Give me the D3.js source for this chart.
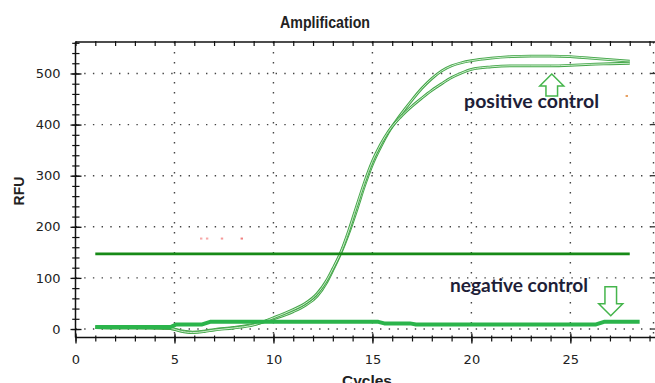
<!DOCTYPE html>
<html><head><meta charset="utf-8">
<script src="https://cdn.jsdelivr.net/npm/d3@7"></script>
<style>html,body{margin:0;padding:0;background:#fff;overflow:hidden}</style>
</head><body>
<svg id="chart" width="655" height="383"></svg>
<script>
// ---------- data ----------
const chartTitle = "Amplification";
const xAxisLabel = "Cycles";
const yAxisLabel = "RFU";
const xMajorTicks = [0, 5, 10, 15, 20, 25];
const yMajorTicks = [0, 100, 200, 300, 400, 500];
const thresholdRFU = 147;
const thresholdRange = [1, 28];

// positive control replicate 1 (upper plateau): [cycle, RFU]
const positiveA = [[1,3],[2,2],[3,2],[4,2],[4.8,1],[5.3,-3],[5.9,-6],[6.5,-4],[7,-1],[8,3],[9,9],[10,20],[11,34],[11.6,46],[12.2,64],[12.7,92],[13.0,115],[13.4,148],[13.8,187],[14.2,232],[14.6,280],[15.0,322],[15.4,355],[15.8,384],[16.4,418],[17.0,448],[17.5,471],[18.0,490],[18.5,505],[19.0,515],[19.5,521],[20,525],[21,530],[22,533],[23,534],[24,534],[25,533],[26,530],[27,527],[28,524]];
// positive control replicate 2 (lower plateau)
const positiveB = [[1,4],[2,3],[3,3],[4,2],[4.8,1],[5.3,-4],[5.9,-7],[6.5,-5],[7,-2],[8,2],[9,8],[10,22],[11,38],[11.6,50],[12.2,69],[12.7,96],[13.0,118],[13.4,150],[13.8,192],[14.2,240],[14.6,287],[15.0,328],[15.4,360],[15.8,386],[16.4,414],[17.0,436],[17.5,452],[18.0,467],[18.5,480],[19.0,492],[19.5,501],[20,508],[21,513],[22,515],[23,515],[24,515],[25,516],[26,518],[27,519],[28,520]];
// negative control
const negativeCtrl = [[1,4],[4.8,4],[5.1,9],[6.4,9],[6.8,14],[15.3,14],[15.6,11],[16.9,11],[17.2,9],[26.3,9],[26.7,14],[28.5,14]];

// annotation texts and anchors (cycle, RFU)
const annotations = [
  {text: "positive control", cycle: 19.63, rfu: 432, width: 135},
  {text: "negative control", cycle: 18.92, rfu: 72, width: 138}
];
const arrows = [
  {dir: "up", cycle: 24.06, rfu: 499},
  {dir: "down", cycle: 27.04, rfu: 26}
];
// small stray marks seen in the picture
const specks = [
  {cycle: 6.35, rfu: 177, color: "#f7a8a8"},
  {cycle: 6.65, rfu: 177, color: "#f7a8a8"},
  {cycle: 7.4, rfu: 177, color: "#f59a9a"},
  {cycle: 8.4, rfu: 177, color: "#f08080"},
  {cycle: 27.85, rfu: 456, color: "#e8a060"}
];

// ---------- layout ----------
const svg = d3.select("#chart");
const L = 75.5, R = 653.5, T = 42, B = 337.5;
const x = d3.scaleLinear().domain([0, 29.2]).range([L, R]);
const y = d3.scaleLinear().domain([-16.6, 561.6]).range([B, T]);

// grid
const grid = svg.append("g");
grid.selectAll("line.h").data(yMajorTicks).join("line")
  .attr("x1", L).attr("x2", R).attr("y1", d => y(d)).attr("y2", d => y(d))
  .attr("stroke", "#444").attr("stroke-width", 1.4).attr("stroke-dasharray", "1.4,7.3");
grid.selectAll("line.v").data(xMajorTicks.filter(d => d > 0)).join("line")
  .attr("x1", d => x(d)).attr("x2", d => x(d)).attr("y1", T).attr("y2", B)
  .attr("stroke", "#444").attr("stroke-width", 1.4).attr("stroke-dasharray", "1.4,8.6");
// right edge dotted border
grid.append("line").attr("x1", R).attr("x2", R).attr("y1", T).attr("y2", B)
  .attr("stroke", "#444").attr("stroke-width", 1.4).attr("stroke-dasharray", "1.4,8.6");
grid.selectAll("line.rt").data(yMajorTicks).join("line")
  .attr("x1", R - 3).attr("x2", R + 3).attr("y1", d => y(d)).attr("y2", d => y(d))
  .attr("stroke", "#333").attr("stroke-width", 1.3);

// specks
svg.append("g").selectAll("rect").data(specks).join("rect")
  .attr("x", d => x(d.cycle) - 1.2).attr("y", d => y(d.rfu) - 1)
  .attr("width", 2.4).attr("height", 2).attr("fill", d => d.color);

// lines
const line = d3.line().x(d => x(d[0])).y(d => y(d[1])).curve(d3.curveMonotoneX);
const lineLin = d3.line().x(d => x(d[0])).y(d => y(d[1]));
[positiveA, positiveB].forEach(s => {
  svg.append("path").attr("d", line(s)).attr("fill", "none")
    .attr("stroke", "#45a64a").attr("stroke-width", 2.8);
  svg.append("path").attr("d", line(s)).attr("fill", "none")
    .attr("stroke", "#cdeecd").attr("stroke-width", 1);
});
svg.append("path").attr("d", lineLin(negativeCtrl)).attr("fill", "none")
  .attr("stroke", "#2bb44b").attr("stroke-width", 4).attr("stroke-linejoin", "round");
svg.append("path").attr("d", lineLin(thresholdRange.map(c => [c, thresholdRFU]))).attr("fill", "none")
  .attr("stroke", "#178a17").attr("stroke-width", 2.8);

// axes
const axisCol = "#111";
const tickFont = "DejaVu Sans, sans-serif";
// bottom axis
const gx = svg.append("g").attr("transform", `translate(0,${B})`)
  .call(d3.axisBottom(x).tickValues(xMajorTicks).tickSize(6).tickPadding(11.5).tickFormat(d3.format("d")));
gx.select(".domain").remove();
gx.selectAll(".tick line").attr("y1", -4).attr("stroke", axisCol).attr("stroke-width", 1.3);
gx.selectAll("text").attr("font-family", tickFont).attr("font-size", 13).attr("fill", "#222");
const gxm = svg.append("g").attr("transform", `translate(0,${B})`)
  .call(d3.axisBottom(x).tickValues(d3.range(0, 30)).tickSize(4).tickFormat(""));
gxm.select(".domain").remove();
gxm.selectAll(".tick line").attr("y1", -2).attr("stroke", axisCol).attr("stroke-width", 1.2);
svg.append("line").attr("x1", L).attr("x2", 655).attr("y1", B).attr("y2", B)
  .attr("stroke", axisCol).attr("stroke-width", 1.5);
// top border
const gt = svg.append("g").attr("transform", `translate(0,${T})`)
  .call(d3.axisTop(x).tickValues(d3.range(0, 30)).tickSize(-4).tickFormat(""));
gt.select(".domain").remove();
gt.selectAll(".tick line").attr("y1", -1).attr("stroke", axisCol).attr("stroke-width", 1.2);
svg.append("line").attr("x1", L).attr("x2", 655).attr("y1", T).attr("y2", T)
  .attr("stroke", axisCol).attr("stroke-width", 1.5);
// left axis
const gy = svg.append("g").attr("transform", `translate(${L},0)`)
  .call(d3.axisLeft(y).tickValues(yMajorTicks).tickSize(5).tickPadding(10));
gy.select(".domain").remove();
gy.selectAll(".tick line").attr("x1", 6).attr("stroke", axisCol).attr("stroke-width", 1.3);
gy.selectAll("text").attr("font-family", tickFont).attr("font-size", 13).attr("fill", "#222");
const gym = svg.append("g").attr("transform", `translate(${L},0)`)
  .call(d3.axisLeft(y).tickValues(d3.range(0, 561, 20)).tickSize(3.3).tickFormat(""));
gym.select(".domain").remove();
gym.selectAll(".tick line").attr("x1", 4).attr("stroke", axisCol).attr("stroke-width", 1.2);
svg.append("line").attr("x1", L).attr("x2", L).attr("y1", T).attr("y2", B)
  .attr("stroke", axisCol).attr("stroke-width", 1.5);

// titles
svg.append("text").text(chartTitle).attr("x", 325).attr("y", 27.5)
  .attr("text-anchor", "middle").attr("font-family", "Liberation Sans, Arial, sans-serif")
  .attr("font-weight", "bold").attr("font-size", 16.5).attr("fill", "#222")
  .attr("textLength", 90).attr("lengthAdjust", "spacingAndGlyphs");
svg.append("text").text(yAxisLabel).attr("transform", "translate(24,191) rotate(-90)")
  .attr("text-anchor", "middle").attr("font-family", "Liberation Sans, Arial, sans-serif")
  .attr("font-weight", "bold").attr("font-size", 14).attr("fill", "#222");
svg.append("text").text(xAxisLabel).attr("x", 367).attr("y", 386)
  .attr("text-anchor", "middle").attr("font-family", "Liberation Sans, Arial, sans-serif")
  .attr("font-weight", "bold").attr("font-size", 15.5).attr("fill", "#222");

// annotations
svg.append("g").selectAll("text").data(annotations).join("text")
  .text(d => d.text).attr("x", d => x(d.cycle)).attr("y", d => y(d.rfu))
  .attr("font-family", "Lato, 'Open Sans', sans-serif").attr("font-weight", "bold")
  .attr("font-size", 18).attr("fill", "#1e1e38")
  .attr("textLength", d => d.width).attr("lengthAdjust", "spacingAndGlyphs");

svg.append("g").selectAll("path").data(arrows).join("path")
  .attr("d", d => {
    const tx = x(d.cycle), ty = y(d.rfu);
    const s = d.dir === "up" ? 1 : -1;
    const hw = 12, sw = 5.8, hl = 12, len = d.dir === "up" ? 22 : 29;
    return d3.line()([[tx, ty], [tx + hw, ty + s*hl], [tx + sw, ty + s*hl], [tx + sw, ty + s*len],
      [tx - sw, ty + s*len], [tx - sw, ty + s*hl], [tx - hw, ty + s*hl]]) + "Z";
  })
  .attr("fill", "#fff").attr("stroke", "#45b54c").attr("stroke-width", 1.5).attr("stroke-linejoin", "miter");
</script>
</body></html>
